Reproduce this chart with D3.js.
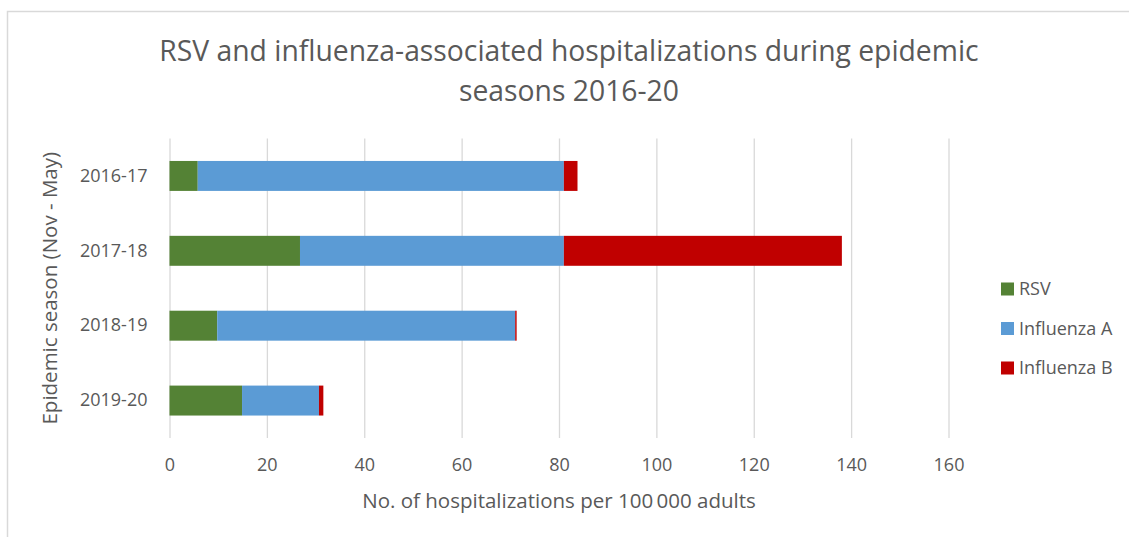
<!DOCTYPE html>
<html>
<head>
<meta charset="utf-8">
<script src="https://cdn.jsdelivr.net/npm/d3@7"></script>
<style>
	body { margin: 0; background: #fff; }
	svg text { font-family: "Open Sans", "Noto Sans", sans-serif; fill: #595959; }
</style>
</head>
<body>
<svg id="chart"></svg>
<script>
'use strict'

// data
const seasons = ['2016-17', '2017-18', '2018-19', '2019-20'];
const rsv = [5.8, 26.8, 9.8, 14.9];
const influenzaA = [75.2, 54.2, 61.2, 15.8];
const influenzaB = [2.8, 57.1, 0.3, 0.9];
const seriesNames = ['RSV', 'Influenza A', 'Influenza B'];
const seriesColors = ['#548235', '#5b9bd5', '#c00000'];
const xTicks = [0, 20, 40, 60, 80, 100, 120, 140, 160];
const titleLines = ['RSV and influenza-associated hospitalizations during epidemic', 'seasons 2016-20'];

const width = 1129,
	height = 537,
	plot = { left: 169.5, right: 948.5, top: 138.5, bottom: 438 };

let svg = d3.select('#chart')
	.attr('width', width)
	.attr('height', height);

// chart frame (only top and left edges are in view)
svg.append('path')
	.attr('d', `M7.5,${height} V11.5 H${width}`)
	.attr('fill', 'none')
	.attr('stroke', '#d9d9d9')
	.attr('stroke-width', 1.5);

// title
svg.append('text')
	.attr('x', 569)
	.attr('text-anchor', 'middle')
	.style('font-size', '28.3px')
	.selectAll('tspan')
	.data(titleLines)
	.join('tspan')
	.attr('x', 569)
	.attr('y', (d, i) => 61 + i * 40)
	.text(d => d);

let x = d3.scaleLinear()
	.domain([0, 160])
	.range([plot.left, plot.right]);

let y = d3.scaleBand()
	.domain(seasons)
	.range([plot.top, plot.bottom])
	.paddingInner(0.6)
	.paddingOuter(0.3);

// gridlines + tick labels
let xAxis = svg.append('g')
	.attr('transform', `translate(0,${plot.bottom})`)
	.call(d3.axisBottom(x).tickValues(xTicks).tickSize(-(plot.bottom - plot.top)).tickPadding(20));
xAxis.select('.domain').remove();
xAxis.selectAll('line').attr('stroke', '#d9d9d9').attr('stroke-width', 1.3);
xAxis.selectAll('text')
	.attr('fill', '#595959')
	.style('font-size', '18px')
	.style('font-family', '"Open Sans", sans-serif');

let yAxis = svg.append('g')
	.attr('transform', `translate(${plot.left},0)`)
	.call(d3.axisLeft(y).tickSize(0).tickPadding(22));
yAxis.select('.domain').remove();
yAxis.selectAll('text')
	.attr('fill', '#595959')
	.style('font-size', '18px')
	.style('font-family', '"Open Sans", sans-serif');

// stacked bars
let rows = seasons.map((s, i) => ({ season: s, 'RSV': rsv[i], 'Influenza A': influenzaA[i], 'Influenza B': influenzaB[i] }));
let stacked = d3.stack().keys(seriesNames)(rows);

svg.append('g')
	.selectAll('g')
	.data(stacked)
	.join('g')
	.attr('fill', (d, i) => seriesColors[i])
	.selectAll('rect')
	.data(d => d)
	.join('rect')
	.attr('x', d => x(d[0]))
	.attr('y', d => y(d.data.season))
	.attr('width', d => x(d[1]) - x(d[0]))
	.attr('height', y.bandwidth());

// axis titles
svg.append('text')
	.attr('x', (plot.left + plot.right) / 2)
	.attr('y', 508)
	.attr('text-anchor', 'middle')
	.style('font-size', '20.5px')
	.text('No. of hospitalizations per 100\u2009000 adults');

svg.append('text')
	.attr('transform', `translate(57,${(plot.top + plot.bottom) / 2}) rotate(-90)`)
	.attr('text-anchor', 'middle')
	.style('font-size', '20.5px')
	.text('Epidemic season (Nov - May)');

// legend
let legend = svg.append('g')
	.selectAll('g')
	.data(seriesNames)
	.join('g')
	.attr('transform', (d, i) => `translate(1001,${289 + i * 39.5})`);

legend.append('rect')
	.attr('x', 0)
	.attr('y', -6.5)
	.attr('width', 13)
	.attr('height', 13)
	.attr('fill', (d, i) => seriesColors[i]);

legend.append('text')
	.attr('x', 18)
	.attr('dy', '0.35em')
	.style('font-size', '18px')
	.text(d => d);
</script>
</body>
</html>
